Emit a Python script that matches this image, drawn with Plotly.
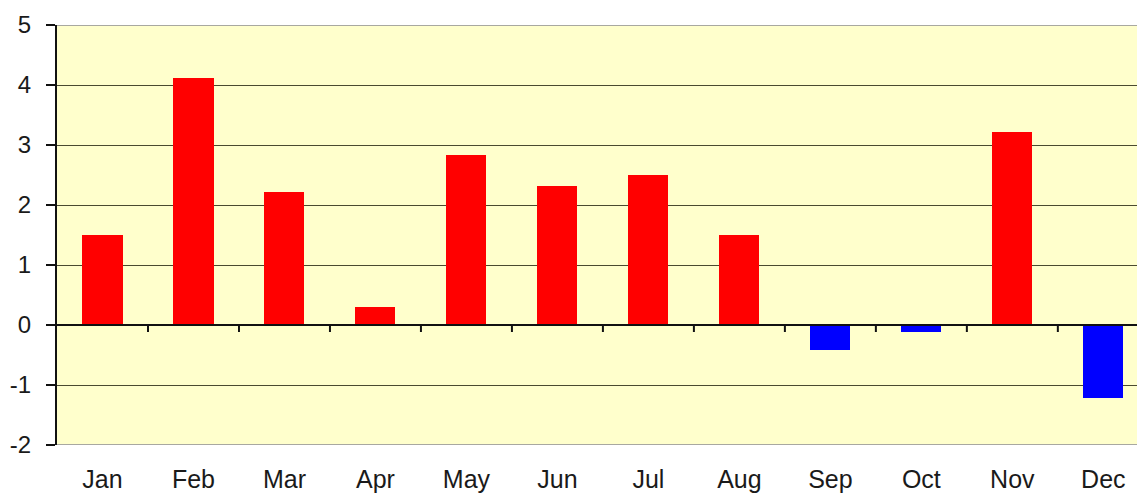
import plotly.graph_objects as go

months = ["Jan", "Feb", "Mar", "Apr", "May", "Jun", "Jul", "Aug", "Sep", "Oct", "Nov", "Dec"]
anomaly = [1.5, 4.12, 2.22, 0.3, 2.83, 2.32, 2.5, 1.5, -0.42, -0.12, 3.22, -1.22]
y_ticks = [5, 4, 3, 2, 1, 0, -1, -2]
y_labels = ["5", "4", "3", "2", "1", "0", "-1", "-2"]

POS = "#FF0000"
NEG = "#0000FF"
colors = [POS if v >= 0 else NEG for v in anomaly]
idx = list(range(len(months)))

fig = go.Figure(
    go.Bar(
        x=idx,
        y=anomaly,
        marker=dict(color=colors, line=dict(width=0)),
        width=0.44,
    )
)

# Category divider ticks hanging below the zero line
shapes = []
for i in idx[:-1]:
    shapes.append(dict(
        type="line", xref="x", yref="y", x0=i + 0.5, x1=i + 0.5,
        ysizemode="pixel", yanchor=0, y0=0, y1=-7,
        line=dict(color="#111111", width=2), layer="above",
    ))
# Plot-area border top and bottom
shapes.append(dict(type="line", xref="paper", yref="y", x0=0, x1=1, y0=5, y1=5,
                   line=dict(color="#a8a8a0", width=2), layer="below"))
shapes.append(dict(type="line", xref="paper", yref="y", x0=0, x1=1, y0=-2, y1=-2,
                   line=dict(color="#a8a8a0", width=2), layer="below"))
# Zero baseline
shapes.append(dict(type="line", xref="paper", yref="y", x0=0, x1=1, y0=0, y1=0,
                   line=dict(color="#111111", width=2), layer="above"))

fig.update_layout(
    width=1137,
    height=497,
    margin=dict(l=57, r=0, t=25, b=52, autoexpand=False),
    paper_bgcolor="white",
    plot_bgcolor="#FFFFCC",
    showlegend=False,
    font=dict(family="Liberation Sans, Arial, sans-serif", size=24, color="#1a1a1a"),
    shapes=shapes,
    bargap=0,
)

fig.update_xaxes(
    tickmode="array",
    tickvals=idx,
    ticktext=months,
    range=[-0.5, 11.37],
    showgrid=False,
    zeroline=False,
    showline=False,
    ticks="",
    ticklabelstandoff=17,
    tickfont=dict(size=25),
    automargin=False,
)

fig.update_yaxes(
    range=[-2, 5],
    tickmode="array",
    tickvals=y_ticks,
    ticktext=y_labels,
    showgrid=True,
    gridcolor="#4a4a30",
    gridwidth=1.4,
    zeroline=False,
    showline=True,
    linecolor="#111111",
    linewidth=2,
    ticks="outside",
    ticklen=9,
    tickwidth=2,
    tickcolor="#111111",
    ticklabelstandoff=10,
    tickfont=dict(size=24),
    automargin=False,
)

fig.write_html("out.html")
